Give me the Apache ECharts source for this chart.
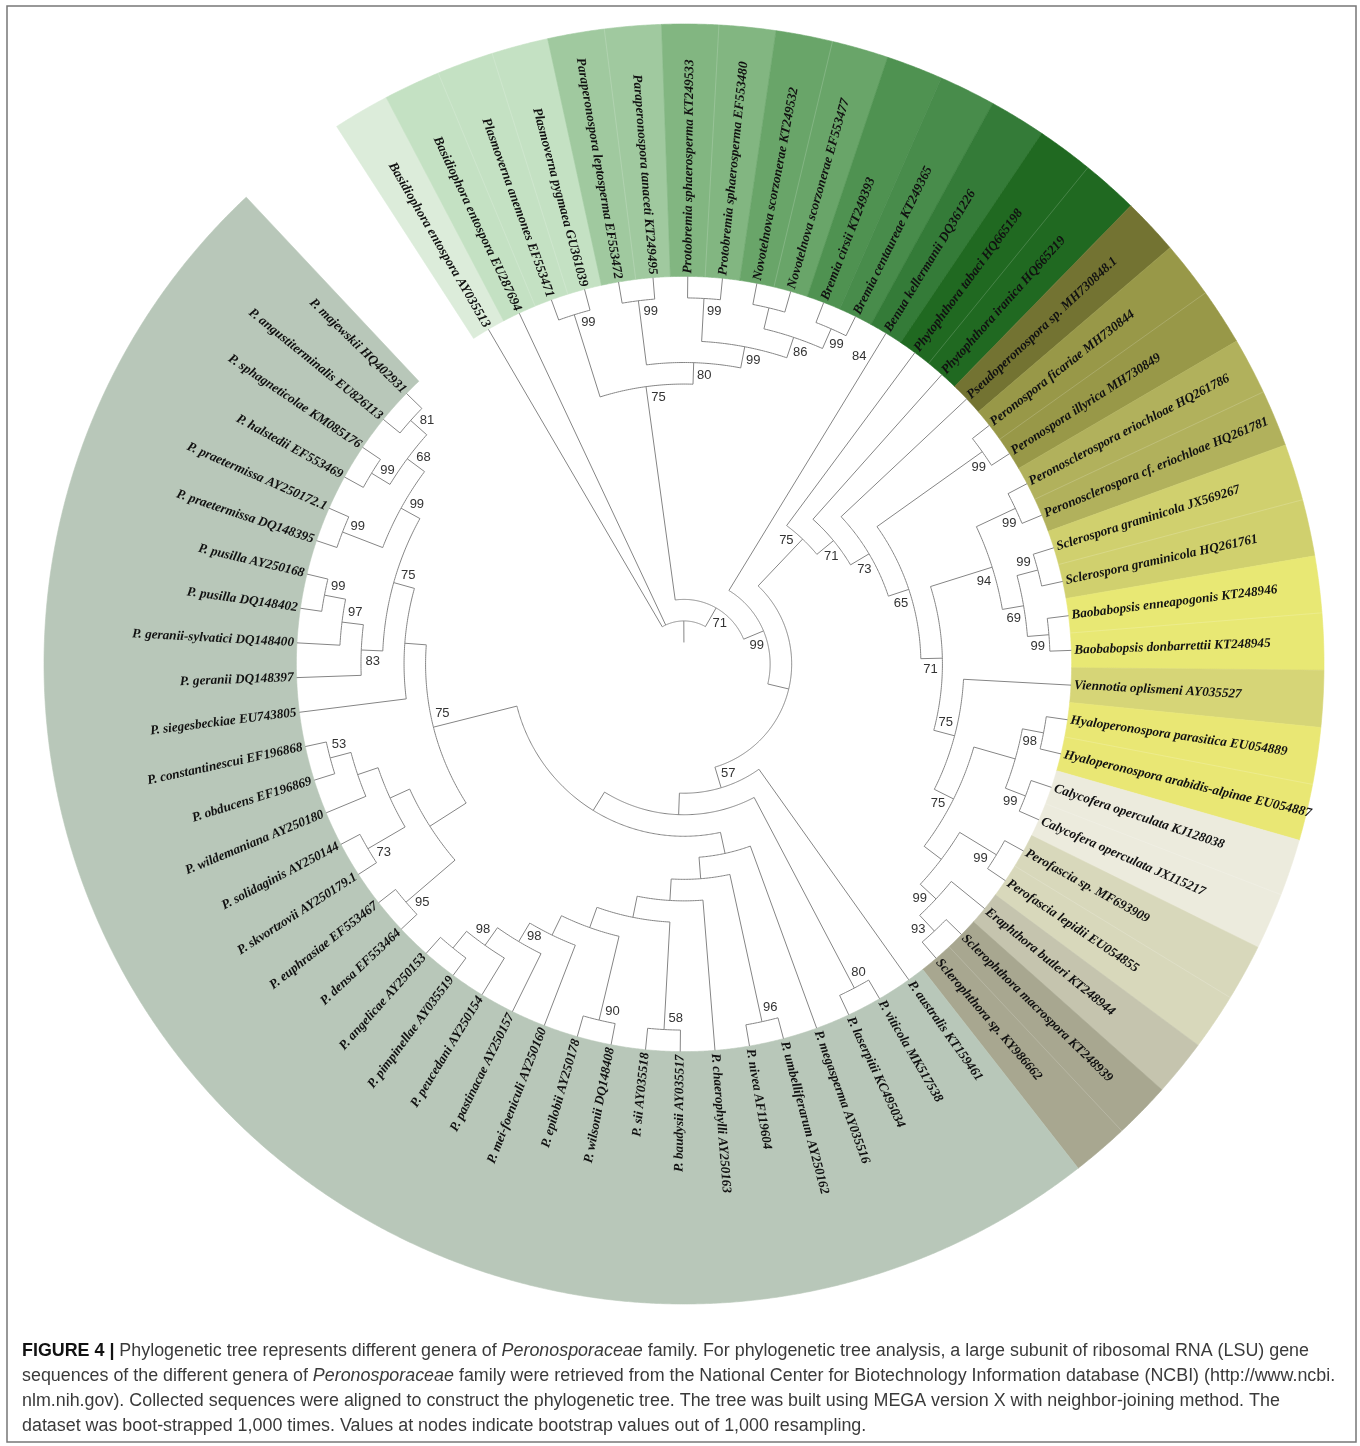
<!DOCTYPE html>
<html>
<head>
<meta charset="utf-8">
<script src="https://cdn.jsdelivr.net/npm/echarts@6/dist/echarts.min.js"></script>
<style>html,body{margin:0;padding:0;background:#fff}#chart{width:1360px;height:1446px}</style>
</head>
<body>
<div id="chart"></div>
<script>
// ---------------- DATA ----------------
const leafNames = [
 'Basidiophora entospora AY035513','Basidiophora entospora EU287694','Plasmoverna anemones EF553471',
 'Plasmoverna pygmaea GU361039','Paraperonospora leptosperma EF553472','Paraperonospora tanaceti KT249495',
 'Protobremia sphaerosperma KT249533','Protobremia sphaerosperma EF553480','Novotelnova scorzonerae KT249532',
 'Novotelnova scorzonerae EF553477','Bremia cirsii KT249393','Bremia centaureae KT249365',
 'Benua kellermanii DQ361226','Phytophthora tabaci HQ665198','Phytophthora iranica HQ665219',
 'Pseudoperonospora sp. MH730848.1','Peronospora ficariae MH730844','Peronospora illyrica MH730849',
 'Peronosclerospora eriochloae HQ261786','Peronosclerospora cf. eriochloae HQ261781','Sclerospora graminicola JX569267',
 'Sclerospora graminicola HQ261761','Baobabopsis enneapogonis KT248946','Baobabopsis donbarrettii KT248945',
 'Viennotia oplismeni AY035527','Hyaloperonospora parasitica EU054889','Hyaloperonospora arabidis-alpinae EU054887',
 'Calycofera operculata KJ128038','Calycofera operculata JX115217','Perofascia sp. MF693909',
 'Perofascia lepidii EU054855','Eraphthora butleri KT248944','Sclerophthora macrospora KT248939',
 'Sclerophthora sp. KY986662','P. australis KT159461','P. viticola MK517538',
 'P. laserpitii KC495034','P. megasperma AY035516','P. umbelliferarum AY250162',
 'P. nivea AF119604','P. chaerophylli AY250163','P. baudysii AY035517',
 'P. sii AY035518','P. wilsonii DQ148408','P. epilobii AY250178',
 'P. mei-foeniculi AY250160','P. pastinacae AY250157','P. peucedani AY250154',
 'P. pimpinellae AY035519','P. angelicae AY250153','P. densa EF553464',
 'P. euphrasiae EF553467','P. skvortzovii AY250179.1','P. solidaginis AY250144',
 'P. wildemaniana AY250180','P. obducens EF196869','P. constantinescui EF196868',
 'P. siegesbeckiae EU743805','P. geranii DQ148397','P. geranii-sylvatici DQ148400',
 'P. pusilla DQ148402','P. pusilla AY250168','P. praetermissa DQ148395',
 'P. praetermissa AY250172.1','P. halstedii EF553469','P. sphagneticolae KM085176',
 'P. angustiterminalis EU826113','P. majewskii HQ402931'
];

// topology (Newick, leaves numbered as in leafNames, 1-based; numbers after ")" = bootstrap)
const cladeTop    = '((3,4)99,((5,6)99,((7,8)99,((9,10),(11,12)99)86)99)80)75';
const cladeRight  = '(14,(15,(16,((17,18)99,(((19,20)99,((21,22)99,(23,24)99)69)94,(25,(((26,27)98,(28,29)99),((30,31)99,(32,(33,34)93)99))75)75)71)65)73)71)75';
const cladeBottom = '(38,((39,40)96,(41,((42,43)58,((44,45)90,(46,(47,(48,(49,50))98)98))))))';
const cladeLeft   = '(((51,52)95,((53,54)73,(55,(56,57)53))),(58,((59,(60,(61,62)99)97)83,((63,64)99,((65,66)99,(67,68)81)68)99)75))75';
const treeNewick  = '(1,2,(' + cladeTop + ',(13,(' + cladeRight + ',(35,((36,37)80,(' + cladeBottom + ',' + cladeLeft + ')))57))99)71)';
const leafSupport = [[13, '84']];

// coloured clades (first leaf, last leaf)
const cladeRanges = [[1,1],[2,4],[5,6],[7,8],[9,10],[11,11],[12,12],[13,13],[14,15],[16,16],[17,18],[19,20],
  [21,22],[23,24],[25,25],[26,27],[28,29],[30,31],[32,32],[33,34],[35,68]];
const cladeColors = ['#dcecda','#c4e1c3','#a0c99f','#82b681','#69a569','#4f9251','#488c4b','#347b38','#206921',
  '#737332','#989848','#b1b15c','#d0d06e','#e8e874','#d6d577','#e9e774','#ecebdd','#d8d8bb','#c5c4ae','#a8a790','#b8c7b9'];

const captionLines = [
 [['b','FIGURE 4 | '],['n','Phylogenetic tree represents different genera of '],['i','Peronosporaceae'],['n',' family. For phylogenetic tree analysis, a large subunit of ribosomal RNA (LSU) gene']],
 [['n','sequences of the different genera of '],['i','Peronosporaceae'],['n',' family were retrieved from the National Center for Biotechnology Information database (NCBI) (http://www.ncbi.']],
 [['n','nlm.nih.gov). Collected sequences were aligned to construct the phylogenetic tree. The tree was built using MEGA version X with neighbor-joining method. The']],
 [['n','dataset was boot-strapped 1,000 times. Values at nodes indicate bootstrap values out of 1,000 resampling.']]
];

// layout-only settings
const ccwLabelNodes = ['14-34','21-22','25-34','35-68','36-37','39-40','42-43','44-45','47-50','51-52','53-54','59-62','13-13'];
const LEAF_R = 18, BAND_OUT = 29.72, SLOTS = 70;

// ---------------- TREE LAYOUT ----------------
function parseNewick(s) {
  let i = 0;
  function node() {
    if (s[i] === '(') {
      i++;
      const children = [node()];
      while (s[i] === ',') { i++; children.push(node()); }
      i++;
      let sup = '';
      while (i < s.length && /[0-9]/.test(s[i])) sup += s[i++];
      return { children, support: sup };
    }
    let num = '';
    while (i < s.length && /[0-9]/.test(s[i])) num += s[i++];
    return { leaf: +num };
  }
  return node();
}
const root = parseNewick(treeNewick);
function layout(n) {
  if (n.leaf) { n.h = 0; n.a = n.leaf - 1; n.first = n.last = n.leaf; }
  else {
    n.children.forEach(layout);
    const c0 = n.children[0], c1 = n.children[n.children.length - 1];
    n.h = 1 + Math.max(...n.children.map(c => c.h));
    n.a = (c0.a + c1.a) / 2; n.first = c0.first; n.last = c1.last;
  }
  n.r = LEAF_R - n.h;
}
layout(root);

const edgeData = [], supportData = [];
(function walk(n, parent) {
  const a0 = n.leaf ? n.a : n.children[0].a;
  const a1 = n.leaf ? n.a : n.children[n.children.length - 1].a;
  edgeData.push([n.r, n.a, parent ? parent.r : n.r - 1, a0, a1]);
  if (!n.leaf && n.support) {
    const key = n.first + '-' + n.last;
    supportData.push({ value: [n.r, n.a, ccwLabelNodes.includes(key) ? -1 : 1], txt: n.support });
  }
  if (!n.leaf) n.children.forEach(c => walk(c, n));
})(root, null);
leafSupport.forEach(([leaf, s]) => {
  const key = leaf + '-' + leaf;
  supportData.push({ value: [LEAF_R - 1, leaf - 1, ccwLabelNodes.includes(key) ? -1 : 1], txt: s });
});
const leafData = leafNames.map((n, i) => [LEAF_R, i]);
const sectorData = cladeRanges.map((g, i) => [LEAF_R, g[0] - 1.5, g[1] - 0.5, i]);

// ---------------- CHART ----------------
const chart = echarts.init(document.getElementById('chart'));

const cv = document.createElement('canvas').getContext('2d');
function segFont(st) {
  return (st === 'i' ? 'italic ' : '') + (st === 'b' ? 'bold ' : '') + '18px "Liberation Sans"';
}
let w1 = 0;
captionLines[0].forEach(([st, t]) => { cv.font = segFont(st); w1 += cv.measureText(t).width; });
const capScale = 1287 / w1;
const capY = [1351, 1376, 1401, 1426];
const captionGraphics = captionLines.map((segs, li) => ({
  type: 'text', x: 22, y: capY[li], scaleX: capScale, silent: true,
  style: {
    text: segs.map(([st, t]) => st === 'n' ? t : '{' + st + '|' + t + '}').join(''),
    fontSize: 18, fontFamily: 'Liberation Sans', fill: '#3a3a3a', verticalAlign: 'middle',
    rich: { b: { fontWeight: 'bold', fill: '#111', fontSize: 18, fontFamily: 'Liberation Sans' },
            i: { fontStyle: 'italic', fontSize: 18, fontFamily: 'Liberation Sans', fill: '#3a3a3a' } }
  }
}));

function unit(api, r, a) {
  const c = api.coord([0, a]), p = api.coord([r, a]);
  const dx = p[0] - c[0], dy = p[1] - c[1], l = Math.hypot(dx, dy) || 1;
  return { p, ux: dx / l, uy: dy / l };
}

chart.setOption({
  animation: false,
  polar: { center: [684, 664], radius: 640 },
  angleAxis: { type: 'value', min: 0, max: SLOTS, startAngle: 120.3, clockwise: true, show: false },
  radiusAxis: { type: 'value', min: 0, max: BAND_OUT, show: false },
  graphic: [
    { type: 'rect', shape: { x: 7, y: 6, width: 1349, height: 1436 }, style: { fill: 'none', stroke: '#777', lineWidth: 1.5 }, silent: true },
    ...captionGraphics
  ],
  series: [
    { // coloured clade bands
      type: 'custom', coordinateSystem: 'polar', silent: true, clip: false,
      encode: { radius: 0, angle: 1 }, data: sectorData,
      renderItem(params, api) {
        const rIn = api.value(0), a0 = api.value(1), a1 = api.value(2), gi = api.value(3);
        const pts = [];
        for (let t = a0; t < a1; t += 0.04) pts.push(api.coord([rIn, t]));
        pts.push(api.coord([rIn, a1]));
        for (let t = a1; t > a0; t -= 0.04) pts.push(api.coord([BAND_OUT, t]));
        pts.push(api.coord([BAND_OUT, a0]));
        const children = [{ type: 'polygon', shape: { points: pts }, style: { fill: cladeColors[gi], stroke: cladeColors[gi], lineWidth: 0.6 } }];
        if (gi < cladeColors.length - 1) {
          for (let b = a0 + 1; b < a1 - 0.01; b += 1) {
            const q0 = api.coord([rIn, b]), q1 = api.coord([BAND_OUT, b]);
            children.push({ type: 'line', shape: { x1: q0[0], y1: q0[1], x2: q1[0], y2: q1[1] }, style: { stroke: 'rgba(255,255,255,0.22)', lineWidth: 0.8 } });
          }
        }
        return { type: 'group', children };
      }
    },
    { // branches
      type: 'custom', coordinateSystem: 'polar', silent: true, clip: false,
      encode: { radius: 0, angle: 1 }, data: edgeData,
      renderItem(params, api) {
        const rN = api.value(0), aN = api.value(1), rP = api.value(2), a0 = api.value(3), a1 = api.value(4);
        const st = { stroke: '#858585', lineWidth: 1, fill: 'none' };
        const p1 = api.coord([rP, aN]), p2 = api.coord([rN, aN]);
        const children = [{ type: 'line', shape: { x1: p1[0], y1: p1[1], x2: p2[0], y2: p2[1] }, style: st }];
        if (a1 > a0) {
          const pts = [];
          for (let t = a0; t < a1; t += 0.08) pts.push(api.coord([rN, t]));
          pts.push(api.coord([rN, a1]));
          children.push({ type: 'polyline', shape: { points: pts }, style: st });
        }
        return { type: 'group', children };
      }
    },
    { // leaf labels
      type: 'custom', coordinateSystem: 'polar', silent: true, clip: false,
      encode: { radius: 0, angle: 1 }, data: leafData,
      renderItem(params, api) {
        const { p, ux, uy } = unit(api, api.value(0), api.value(1));
        let rot = Math.atan2(-uy, ux), align = 'left';
        if (ux < 0) { rot += Math.PI; align = 'right'; }
        return {
          type: 'text', x: p[0] + ux * 3, y: p[1] + uy * 3, rotation: rot,
          style: { text: leafNames[params.dataIndex], fontFamily: 'Liberation Serif', fontStyle: 'italic', fontWeight: 'bold',
                   fontSize: 13.2, fill: '#111', align, verticalAlign: 'middle' }
        };
      }
    },
    { // bootstrap values
      type: 'custom', coordinateSystem: 'polar', silent: true, clip: false,
      encode: { radius: 0, angle: 1 }, data: supportData,
      renderItem(params, api) {
        const side = api.value(2);
        const { p, ux, uy } = unit(api, api.value(0), api.value(1));
        const tx = -uy, ty = ux;
        return {
          type: 'text', x: p[0] - 12 * ux + side * 11 * tx, y: p[1] - 12 * uy + side * 11 * ty,
          style: { text: supportData[params.dataIndex].txt, fontFamily: 'Liberation Sans', fontSize: 13, fill: '#333',
                   align: 'center', verticalAlign: 'middle' }
        };
      }
    }
  ]
});
</script>
</body>
</html>
